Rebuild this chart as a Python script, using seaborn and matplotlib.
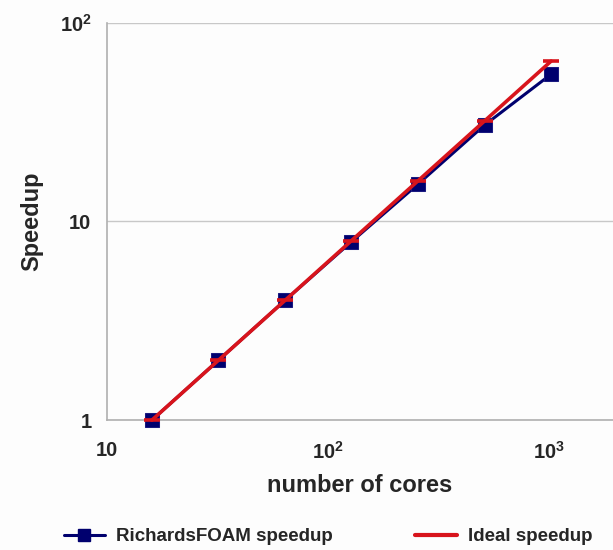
import numpy as np
import pandas as pd
import matplotlib
matplotlib.use("Agg")
import matplotlib.pyplot as plt
import matplotlib.ticker as mticker
from matplotlib.lines import Line2D
import seaborn as sns

# --- data ---
cores = [16, 32, 64, 128, 256, 512, 1024]
richards_speedup = [1.0, 2.0, 4.0, 7.9, 15.4, 30.5, 55.0]
ideal_speedup = [1, 2, 4, 8, 16, 32, 64]

x_ticks = [10, 100, 1000]
x_ticklabels = ["10", r"$10^2$", r"$10^3$"]
y_ticks = [1, 10, 100]
y_ticklabels = ["1", "10", r"$10^2$"]

NAVY = "#00006E"
RED = "#D8141C"

sns.set_style("white")
plt.rcParams["font.family"] = ["Liberation Sans", "DejaVu Sans"]
plt.rcParams["font.weight"] = "bold"
plt.rcParams["mathtext.fontset"] = "custom"
plt.rcParams["mathtext.rm"] = "Liberation Sans:bold"
plt.rcParams["mathtext.bf"] = "Liberation Sans:bold"
plt.rcParams["mathtext.default"] = "rm"

df = pd.DataFrame({"cores": cores, "richards": richards_speedup, "ideal": ideal_speedup})

fig = plt.figure(figsize=(6.13, 5.50), dpi=100)
fig.patch.set_facecolor("#FDFDFD")
ax = fig.add_axes([0.174, 0.236, 0.826, 0.723])
ax.set_facecolor("#FDFDFD")

sns.lineplot(data=df, x="cores", y="richards", ax=ax, color=NAVY, lw=2.2,
             marker="s", markersize=10, markeredgecolor="#1A1A80", zorder=3,
             clip_on=False)
sns.lineplot(data=df, x="cores", y="ideal", ax=ax, color=RED, lw=2.6,
             marker="_", markersize=11, markeredgewidth=2.6,
             markeredgecolor=RED, zorder=4, clip_on=False)

ax.set_xscale("log")
ax.set_yscale("log")
ax.set_xlim(10, 1950)
ax.set_ylim(1, 100)

ax.xaxis.set_major_locator(mticker.FixedLocator(x_ticks))
ax.xaxis.set_major_formatter(mticker.FixedFormatter(x_ticklabels))
ax.yaxis.set_major_locator(mticker.FixedLocator(y_ticks))
ax.yaxis.set_major_formatter(mticker.FixedFormatter(y_ticklabels))
ax.xaxis.set_minor_locator(mticker.LogLocator(base=10, subs=np.arange(2, 10)))
ax.yaxis.set_minor_locator(mticker.LogLocator(base=10, subs=np.arange(2, 10)))
ax.xaxis.set_minor_formatter(mticker.NullFormatter())
ax.yaxis.set_minor_formatter(mticker.NullFormatter())

ax.tick_params(axis="both", which="major", direction="out", length=5, width=1,
               color="#999999", labelsize=14.5, pad=6)
ax.tick_params(axis="both", which="minor", direction="out", length=4, width=0.8,
               color="#999999")
ax.tick_params(axis="x", which="major", pad=10)

ax.yaxis.grid(True, which="major", color="#C8C8C8", lw=1)
ax.xaxis.grid(False)
for side in ["top", "right"]:
    ax.spines[side].set_visible(False)
for side in ["left", "bottom"]:
    ax.spines[side].set_color("#B0B0B0")
    ax.spines[side].set_linewidth(1.2)

ax.set_xlabel("number of cores", fontsize=17, fontweight="bold", labelpad=8)
ax.set_ylabel("Speedup", fontsize=17, fontweight="bold", labelpad=12)

handles = [
    Line2D([], [], color=NAVY, lw=2.2, marker="s", markersize=8),
    Line2D([], [], color=RED, lw=3),
]
if ax.get_legend():
    ax.get_legend().remove()
fig.legend(handles, ["RichardsFOAM speedup", "Ideal speedup"], loc="center",
           bbox_to_anchor=(0.535, 0.024), ncol=2, frameon=False,
           handlelength=2.2, columnspacing=4.4, handletextpad=0.6,
           prop={"weight": "bold", "size": 13.5})

fig.savefig("out.png", dpi=100, facecolor=fig.get_facecolor())
